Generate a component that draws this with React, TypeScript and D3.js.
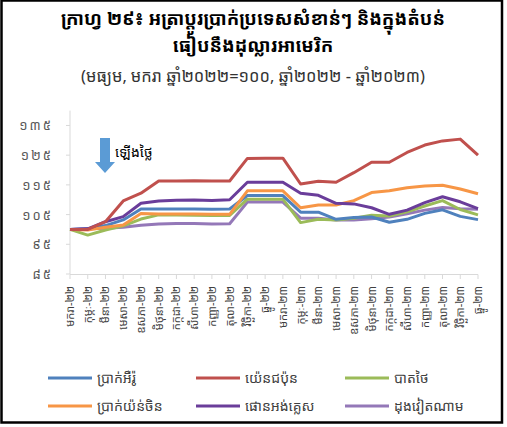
import React from "react";
import * as d3 from "d3";

const months = ["មករា", "កុម្ភៈ", "មីនា", "មេសា", "ឧសភា", "មិថុនា", "កក្កដា", "សីហា", "កញ្ញា", "តុលា", "វិច្ឆិកា", "ធ្នូ"];
const categories = [
  ...months.map((m) => m + "-២២"),
  ...months.map((m) => m + "-២៣"),
];
const yTicks = [85, 95, 105, 115, 125, 135];
const yTickLabels = ["៨៥", "៩៥", "១០៥", "១១៥", "១២៥", "១៣៥"];

const euro = [100, 100.2, 101.3, 103.2, 106.9, 106.9, 106.9, 106.9, 106.8, 106.9, 111.4, 111.4, 111.4, 105.8, 105.8, 103.4, 104.0, 104.2, 102.4, 103.4, 105.4, 106.6, 104.4, 103.3];
const yen = [100, 100, 102.6, 109.6, 112.2, 116.3, 116.3, 116.4, 116.3, 116.3, 123.9, 124.0, 124.0, 115.3, 116.2, 115.9, 119.1, 122.6, 122.6, 125.9, 128.4, 129.8, 130.4, 125.0];
const baht = [100, 98.1, 99.8, 101.2, 103.5, 104.9, 104.9, 104.8, 104.7, 104.7, 110.2, 110.2, 110.2, 102.3, 103.4, 103.2, 103.8, 104.8, 104.5, 105.9, 107.9, 109.7, 106.7, 104.9];
const yuan = [100, 99.8, 100.7, 101.5, 105.4, 105.2, 105.2, 105.2, 105.1, 105.1, 113.0, 113.0, 113.0, 107.3, 108.2, 108.2, 109.7, 112.4, 113.0, 114.0, 114.6, 114.9, 113.6, 112.0];
const pound = [100, 100.2, 102.6, 104.3, 108.8, 109.6, 109.8, 109.9, 109.7, 110.0, 115.9, 115.9, 115.9, 112.2, 111.5, 108.8, 108.6, 107.3, 105.1, 106.5, 109.0, 111.0, 109.3, 107.0];
const dong = [100, 100.2, 100.4, 100.7, 101.4, 101.8, 102.0, 102.0, 101.8, 101.9, 109.2, 109.2, 109.2, 103.8, 103.8, 103.2, 103.2, 103.6, 104.2, 105.3, 106.5, 107.4, 107.0, 106.8];

const seriesNames = ["ប្រាក់អឺរ៉ូ", "យ៉េនជប៉ុន", "បាតថៃ", "ប្រាក់យ៉ន់ចិន", "ផោនអង់គ្លេស", "ដុងវៀតណាម"];
const seriesValues = [euro, yen, baht, yuan, pound, dong];
const seriesColors = ["#4F81BD", "#C0504D", "#9BBB59", "#F79646", "#6A3D9A", "#9478B8"];
// draw order (back to front)
const drawOrder = [5, 2, 0, 3, 4, 1];

const FONT = "'Noto Sans Khmer', 'Khmer OS', 'Khmer OS System', 'Hanuman', 'Noto Serif Khmer', sans-serif";

export default function App() {
  const W = 507;
  const H = 427;
  const x = d3.scalePoint<string>().domain(categories).range([70, 478]);
  const y = d3.scaleLinear().domain([85, 140]).range([274, 110.6]);
  const line = d3
    .line<number>()
    .x((_, i) => x(categories[i]) as number)
    .y((d) => y(d));

  const legendCols = [48, 196, 345];
  const legendRows = [378, 406];

  return (
    <svg
      width={W}
      height={H}
      style={{ position: "fixed", left: 0, top: 0, background: "#fff" }}
      fontFamily={FONT}
    >
      <rect x={0} y={0} width={W} height={H} fill="#fff" />
      {/* frame */}
      <rect x={1.5} y={0.5} width={500.5} height={422} fill="none" stroke="#000" strokeWidth={2.5} />

      {/* title */}
      <text x={253} y={25} textAnchor="middle" fontSize={18.5} fontWeight="bold" fill="#000">
        ក្រាហ្វ ២៩៖ អត្រាប្តូរប្រាក់ប្រទេសសំខាន់ៗ និងក្នុងតំបន់
      </text>
      <text x={253} y={52} textAnchor="middle" fontSize={18.5} fontWeight="bold" fill="#000">
        ធៀបនឹងដុល្លារអាមេរិក
      </text>
      <text x={253} y={82} textAnchor="middle" fontSize={16.5} fill="#333">
        (មធ្យម, មករា ឆ្នាំ២០២២=១០០, ឆ្នាំ២០២២ - ឆ្នាំ២០២៣)
      </text>

      {/* y axis */}
      <line x1={70} x2={70} y1={y(140)} y2={y(85)} stroke="#d9d9d9" strokeWidth={1} />
      {yTicks.map((t, i) => (
        <g key={t}>
          <line x1={66} x2={70} y1={y(t)} y2={y(t)} stroke="#d9d9d9" />
          <text x={53} y={y(t) + 5} textAnchor="end" fontSize={13} fill="#595959" letterSpacing={2}>
            {yTickLabels[i]}
          </text>
        </g>
      ))}

      {/* x axis */}
      <line x1={70} x2={478} y1={274.5} y2={274.5} stroke="#d9d9d9" strokeWidth={1.2} />
      {categories.map((c) => (
        <g key={c}>
          <line x1={x(c)} x2={x(c)} y1={274.5} y2={279} stroke="#d9d9d9" />
          <text
            transform={`translate(${(x(c) as number) + 4},${286}) rotate(-90)`}
            textAnchor="end"
            fontSize={11}
            fill="#404040"
          >
            {c}
          </text>
        </g>
      ))}

      {/* series */}
      {drawOrder.map((si) => (
        <path
          key={si}
          d={line(seriesValues[si]) as string}
          fill="none"
          stroke={seriesColors[si]}
          strokeWidth={3}
          strokeLinejoin="round"
        />
      ))}

      {/* annotation arrow */}
      <path d="M100,138 L110,138 L110,162 L115,162 L105,173 L95,162 L100,162 Z" fill="#5B9BD5" />
      <text x={115} y={157} fontSize={14} fill="#000">
        ឡើងថ្លៃ
      </text>

      {/* legend */}
      {seriesNames.map((n, i) => {
        const lx = legendCols[i % 3];
        const ly = legendRows[Math.floor(i / 3)];
        return (
          <g key={n}>
            <line x1={lx} x2={lx + 44} y1={ly} y2={ly} stroke={seriesColors[i]} strokeWidth={3} />
            <text x={lx + 49} y={ly + 5} fontSize={14} fill="#404040">
              {n}
            </text>
          </g>
        );
      })}
    </svg>
  );
}
